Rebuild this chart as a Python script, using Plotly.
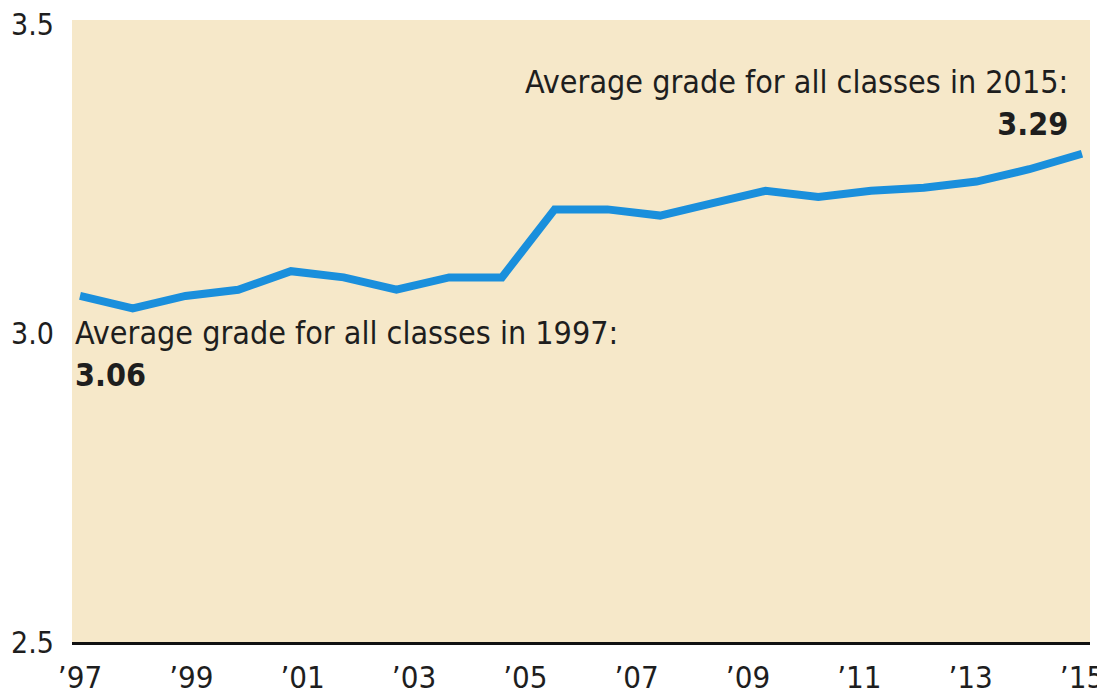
import numpy as np
import plotly.graph_objects as go

# ---- data ----
avg_grade = [3.06, 3.04, 3.06, 3.07, 3.10, 3.09, 3.07, 3.09, 3.09, 3.20,
             3.20, 3.19, 3.21, 3.23, 3.22, 3.23, 3.235, 3.245, 3.265, 3.29]
first_year, last_year = 1997, 2015
tick_years = [1997, 1999, 2001, 2003, 2005, 2007, 2009, 2011, 2013, 2015]
tick_labels = ["\u201997", "\u201999", "\u201901", "\u201903", "\u201905",
               "\u201907", "\u201909", "\u201911", "\u201913", "\u201915"]
y_ticks = [2.5, 3.0, 3.5]
y_tick_labels = ["2.5", "3.0", "3.5"]
note_1997 = "Average grade for all classes in 1997:<br><b>3.06</b>"
note_2015 = "Average grade for all classes in 2015:<br><b>3.29</b>"

x_pos = np.linspace(first_year, last_year, len(avg_grade))

FONT = "DejaVu Sans Condensed, Liberation Sans Narrow, Arial Narrow, DejaVu Sans, sans-serif"
OFF = 8  # default page body margin
W, H = 1105 - OFF, 699 - OFF
L, T = 72 - OFF, 20 - OFF
R = W - (1090 - OFF)
B = H - (642 - OFF)
pw, ph = W - L - R, H - T - B

def px_x(px):
    return (px - OFF - L) / pw

def px_y(py):
    return (H - B - (py - OFF)) / ph

fig = go.Figure()
fig.add_trace(go.Scatter(
    x=x_pos, y=avg_grade, mode="lines",
    line=dict(color="#1a8fdc", width=8),
    hoverinfo="skip", showlegend=False,
))

fig.add_annotation(text=note_1997, xref="paper", yref="paper",
                   x=px_x(73), y=px_y(312), xanchor="left", yanchor="top",
                   align="left", showarrow=False,
                   font=dict(family=FONT, size=32, color="#1e1e1e"))
fig.add_annotation(text=note_2015, xref="paper", yref="paper",
                   x=px_x(1070), y=px_y(61), xanchor="right", yanchor="top",
                   align="right", showarrow=False,
                   font=dict(family=FONT, size=32, color="#1e1e1e"))

span = (last_year - first_year)
pad = 8 / ((1082 - 80) / span)
fig.update_layout(
    width=W, height=H,
    margin=dict(l=L, r=R, t=T, b=B, pad=0, autoexpand=False),
    paper_bgcolor="white",
    plot_bgcolor="#f6e8c9",
    font=dict(family=FONT, size=32, color="#1e1e1e"),
    xaxis=dict(range=[first_year - pad, last_year + pad],
               tickvals=tick_years, ticktext=tick_labels,
               showgrid=False, zeroline=False, automargin=False,
               showline=True, linecolor="#111111", linewidth=3,
               ticks="", ticklabelstandoff=6, ticklabeloverflow="allow",
               tickfont=dict(family=FONT, size=31, color="#1e1e1e")),
    yaxis=dict(range=[2.5, 3.5 + 4 / 618],
               tickvals=y_ticks, ticktext=y_tick_labels,
               showgrid=False, zeroline=False, showline=False, automargin=False,
               ticks="", ticklabelstandoff=17, ticklabeloverflow="allow",
               tickfont=dict(family=FONT, size=30, color="#1e1e1e")),
)

fig.write_html("out.html")
